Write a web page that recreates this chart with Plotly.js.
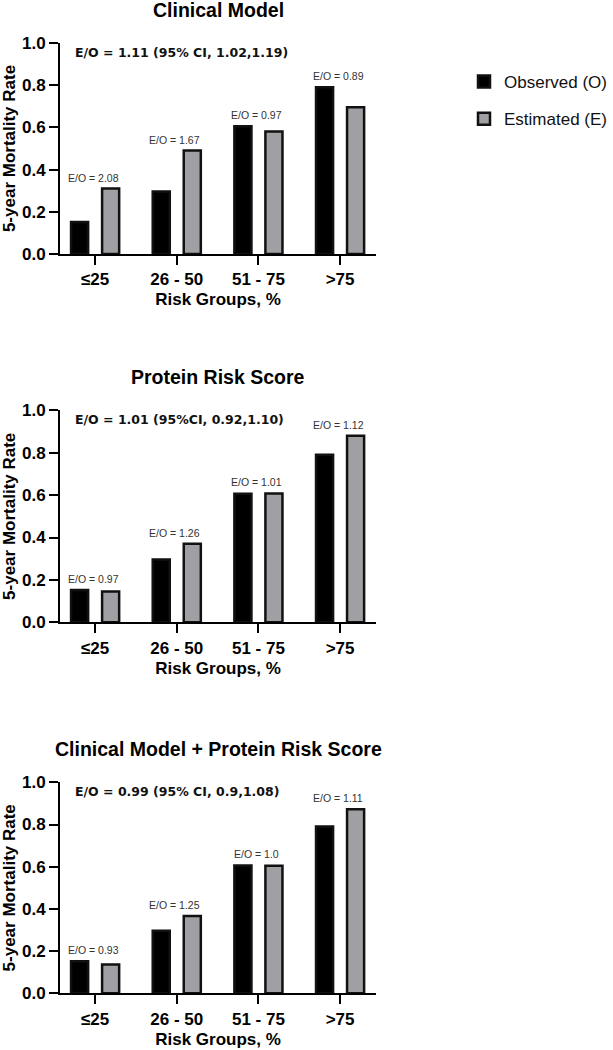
<!DOCTYPE html>
<html>
<head>
<meta charset="utf-8">
<script src="https://cdn.plot.ly/plotly-3.0.1.min.js"></script>
<style>
html,body{margin:0;padding:0;background:#fff;}
#chart{width:613px;height:1050px;}
</style>
</head>
<body>
<div id="chart"></div>
<script>
const categories = ['≤25', '26 - 50', '51 - 75', '>75'];
const observed = [0.152, 0.296, 0.606, 0.79];
const estClinical = [0.31, 0.49, 0.58, 0.695];
const estProtein = [0.145, 0.37, 0.608, 0.88];
const estCombined = [0.137, 0.366, 0.605, 0.872];
const eoClinical = ['2.08', '1.67', '0.97', '0.89'];
const eoProtein = ['0.97', '1.26', '1.01', '1.12'];
const eoCombined = ['0.93', '1.25', '1.0', '1.11'];
const panelTitles = ['Clinical Model', 'Protein Risk Score', 'Clinical Model + Protein Risk Score'];
const summaries = ['E/O = 1.11 (95% CI, 1.02,1.19)', 'E/O = 1.01 (95%CI, 0.92,1.10)', 'E/O = 0.99 (95% CI, 0.9,1.08)'];
const legendNames = ['Observed (O)', 'Estimated (E)'];

const estimates = [estClinical, estProtein, estCombined];
const eoLabels = [eoClinical, eoProtein, eoCombined];

const W = 613, H = 1050;
const xDom = [60 / W, 376 / W];
// pixel top (1.0) and bottom (0.0) of each panel
const panelPx = [[43, 254], [410.3, 622.3], [782.3, 993.3]];

const SANS = 'Liberation Sans, Arial, sans-serif';
const grayFill = '#a0a0a4';
const edge = '#111111';

const traces = [];
const annotations = [];
const layout = {
  width: W, height: H,
  margin: {l: 0, r: 0, t: 0, b: 0},
  paper_bgcolor: '#ffffff', plot_bgcolor: '#ffffff',
  barmode: 'group', bargap: 0.24, bargroupgap: 0.45,
  showlegend: true,
  legend: {
    x: 464 / W, y: 1 - 64 / H, xanchor: 'left', yanchor: 'top',
    font: {family: SANS, size: 17, color: '#111'},
    tracegroupgap: 12, traceorder: 'grouped',
    bgcolor: 'rgba(0,0,0,0)'
  },
  font: {family: SANS, color: '#000'}
};

for (let p = 0; p < 3; p++) {
  const sfx = p === 0 ? '' : String(p + 1);
  const xa = 'x' + sfx, ya = 'y' + sfx;
  traces.push({
    type: 'bar', x: categories, y: observed, name: legendNames[0],
    xaxis: xa, yaxis: ya, legendgroup: 'O', showlegend: p === 0,
    marker: {color: '#000000', line: {color: edge, width: 2.5}},
    hoverinfo: 'x+y'
  });
  traces.push({
    type: 'bar', x: categories, y: estimates[p], name: legendNames[1],
    xaxis: xa, yaxis: ya, legendgroup: 'E', showlegend: p === 0,
    marker: {color: grayFill, line: {color: edge, width: 2.5}},
    hoverinfo: 'x+y'
  });
  const [top, bot] = panelPx[p];
  layout['xaxis' + sfx] = {
    domain: xDom, anchor: ya, range: [-0.43, 3.44],
    type: 'category',
    showline: true, linecolor: '#000', linewidth: 2,
    ticks: 'outside', ticklen: 9, tickwidth: 2, tickcolor: '#000',
    showgrid: false, zeroline: false,
    tickfont: {family: SANS, size: 17, weight: 'bold', color: '#000'},
    title: {text: 'Risk Groups, %', font: {family: SANS, size: 17, weight: 'bold', color: '#000'}, standoff: 5},
    fixedrange: true
  };
  layout['yaxis' + sfx] = {
    domain: [1 - bot / H, 1 - top / H], anchor: xa, range: [0, 1],
    tickvals: [0, 0.2, 0.4, 0.6, 0.8, 1.0], tickformat: '.1f',
    showline: true, linecolor: '#000', linewidth: 2,
    ticks: 'outside', ticklen: 9, tickwidth: 2, tickcolor: '#000',
    showgrid: false, zeroline: false,
    tickfont: {family: SANS, size: 17, weight: 'bold', color: '#000'},
    title: {text: '5-year Mortality Rate', font: {family: SANS, size: 17, weight: 'bold', color: '#000'}, standoff: 6},
    fixedrange: true
  };
  annotations.push({
    text: panelTitles[p], xref: xa + ' domain', yref: ya + ' domain',
    x: 0.5, y: 1, xanchor: 'center', yanchor: 'middle', yshift: 33,
    showarrow: false, font: {family: SANS, size: 19.5, weight: 'bold', color: '#000'}
  });
  annotations.push({
    text: summaries[p], xref: xa + ' domain', yref: ya + ' domain',
    x: 0.041, y: 1, xanchor: 'left', yanchor: 'middle', yshift: -9,
    showarrow: false, font: {family: 'DejaVu Sans, Verdana, sans-serif', size: 12.5, weight: 'bold', color: '#111'}
  });
  for (let i = 0; i < categories.length; i++) {
    annotations.push({
      text: 'E/O = ' + eoLabels[p][i], xref: xa, yref: ya,
      x: categories[i], y: Math.max(observed[i], estimates[p][i]),
      xanchor: 'center', yanchor: 'bottom', yshift: 3, xshift: -2,
      showarrow: false, font: {family: SANS, size: 10.5, color: '#333'}
    });
  }
}
layout.annotations = annotations;

Plotly.newPlot('chart', traces, layout, {displayModeBar: false, staticPlot: true});
</script>
</body>
</html>
